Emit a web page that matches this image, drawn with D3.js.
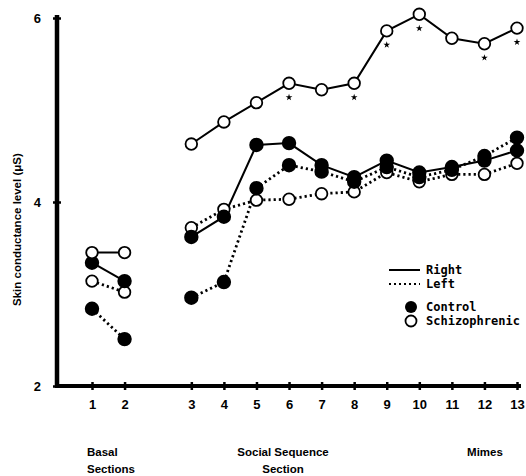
<!DOCTYPE html>
<html>
<head>
<meta charset="utf-8">
<script src="https://cdn.jsdelivr.net/npm/d3@7"></script>
<style>
  html, body { margin: 0; padding: 0; background: #fff; }
  svg { display: block; }
  .tick-label { font-family: "Liberation Sans Narrow", "Liberation Sans", Arial, sans-serif; font-weight: bold; font-size: 13px; }
  .sec-label { font-family: "Liberation Sans", Arial, sans-serif; font-weight: bold; font-size: 11.5px; }
  .leg { font-family: "DejaVu Sans Mono", "Liberation Mono", monospace; font-weight: bold; font-size: 12px; }
</style>
</head>
<body>
<svg id="chart" width="526" height="476"></svg>
<script>
// ---- data ----
const sections = [1, 2, 3, 4, 5, 6, 7, 8, 9, 10, 11, 12, 13];
const yTicks = [2, 4, 6];
const controlRight = [3.34, 3.14, 3.62, 3.84, 4.62, 4.64, 4.40, 4.27, 4.45, 4.32, 4.38, 4.45, 4.56];
const controlLeft  = [2.84, 2.51, 2.96, 3.13, 4.15, 4.40, 4.33, 4.22, 4.38, 4.27, 4.35, 4.50, 4.70];
const schizoRight  = [3.45, 3.45, 4.63, 4.87, 5.08, 5.29, 5.22, 5.29, 5.86, 6.04, 5.78, 5.72, 5.89];
const schizoLeft   = [3.14, 3.02, 3.72, 3.92, 4.02, 4.03, 4.09, 4.11, 4.32, 4.22, 4.30, 4.30, 4.42];
const significant  = [6, 8, 9, 10, 12, 13]; // starred schizophrenic right sections
const groups = [["Basal", "Sections"], ["Social Sequence", "Section"], ["Mimes"]];

// ---- scales ----
const slot = n => (n <= 2 ? n : n + 1.05);
const x = d3.scaleLinear().domain([1, slot(13)]).range([92, 517]);
const y = d3.scaleLinear().domain([2, 6]).range([386, 18]);
const svg = d3.select("#chart");

// ---- axes ----
const axisX0 = 57;
svg.append("line").attr("x1", axisX0).attr("x2", x(slot(13)) + 4).attr("y1", y(2)).attr("y2", y(2))
  .attr("stroke", "#000").attr("stroke-width", 4);
svg.append("line").attr("x1", axisX0).attr("x2", axisX0).attr("y1", y(6) - 3).attr("y2", y(2) + 2)
  .attr("stroke", "#000").attr("stroke-width", 4.5);

const xAxis = d3.axisBottom(x).tickValues(sections.map(slot)).tickSize(0).tickFormat((d, i) => sections[i]);
const gx = svg.append("g").attr("transform", `translate(0,${y(2)})`).call(xAxis);
gx.select(".domain").remove();
gx.selectAll("text").attr("class", "tick-label").attr("dy", "1.55em").attr("fill", "#000");
gx.selectAll(".tick line").attr("y1", -4).attr("y2", 4).attr("stroke", "#000").attr("stroke-width", 2.5);

const yAxis = d3.axisLeft(y).tickValues(yTicks).tickSize(0).tickFormat(d3.format("d"));
const gy = svg.append("g").attr("transform", `translate(${axisX0},0)`).call(yAxis);
gy.select(".domain").remove();
gy.selectAll("text").attr("class", "tick-label").attr("x", -16).attr("fill", "#000").attr("font-size", 14);
gy.selectAll(".tick line").attr("x1", -4).attr("x2", 4).attr("stroke", "#000").attr("stroke-width", 2.5);

svg.append("text").attr("class", "sec-label")
  .attr("transform", `translate(21,${y(3.7)}) rotate(-90)`)
  .attr("text-anchor", "middle").text("Skin conductance level (\u03bcS)");

// group labels
const groupPos = [[87, 456, "start"], [283, 456, "middle"], [485, 456, "middle"]];
groups.forEach((g, i) => {
  const t = svg.append("text").attr("class", "sec-label").attr("text-anchor", groupPos[i][2])
    .attr("x", groupPos[i][0]).attr("y", groupPos[i][1]);
  g.forEach((ln, j) => t.append("tspan").attr("x", groupPos[i][0]).attr("dy", j === 0 ? 0 : 17).text(ln));
});

// ---- series ----
const series = [
  { vals: schizoLeft,   dash: "2.2,3", fill: "#fff" },
  { vals: controlLeft,  dash: "2.2,3", fill: "#000" },
  { vals: controlRight, dash: null,    fill: "#000" },
  { vals: schizoRight,  dash: null,    fill: "#fff" }
];
const line = d3.line().x(d => x(slot(d.s))).y(d => y(d.v));
series.forEach(sr => {
  const pts = sections.map((s, i) => ({ s, v: sr.vals[i] }));
  const segs = [pts.filter(p => p.s <= 2), pts.filter(p => p.s >= 3)];
  segs.forEach(seg => {
    svg.append("path").datum(seg).attr("d", line).attr("fill", "none")
      .attr("stroke", "#000").attr("stroke-width", sr.dash ? 2.8 : 2)
      .attr("stroke-dasharray", sr.dash);
  });
});
series.forEach(sr => {
  svg.append("g").selectAll("circle").data(sections).join("circle")
    .attr("cx", s => x(slot(s))).attr("cy", (s, i) => y(sr.vals[i]))
    .attr("r", sr.fill === "#000" ? 6.3 : 5.8)
    .attr("fill", sr.fill).attr("stroke", "#000").attr("stroke-width", 1.8);
});

// stars
svg.append("g").selectAll("path").data(significant).join("path")
  .attr("d", d3.symbol().type(d3.symbolStar).size(14))
  .attr("transform", s => `translate(${x(slot(s))},${y(schizoRight[s - 1]) + 14})`)
  .attr("fill", "#000");

// ---- legend ----
const lg = svg.append("g").attr("class", "leg");
lg.append("line").attr("x1", 389).attr("x2", 420).attr("y1", 270).attr("y2", 270)
  .attr("stroke", "#000").attr("stroke-width", 2);
lg.append("line").attr("x1", 389).attr("x2", 420).attr("y1", 284).attr("y2", 284)
  .attr("stroke", "#000").attr("stroke-width", 2).attr("stroke-dasharray", "2,3");
lg.append("circle").attr("cx", 411).attr("cy", 307).attr("r", 6).attr("fill", "#000");
lg.append("circle").attr("cx", 411).attr("cy", 321).attr("r", 5.5).attr("fill", "#fff").attr("stroke", "#000").attr("stroke-width", 1.8);
[["Right", 274], ["Left", 288], ["Control", 311], ["Schizophrenic", 325]].forEach(([t, yy]) => {
  lg.append("text").attr("x", 426).attr("y", yy).text(t);
});
</script>
</body>
</html>
